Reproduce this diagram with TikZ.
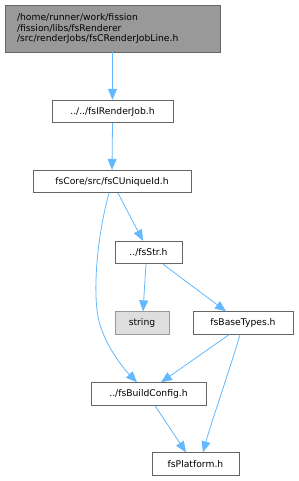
\documentclass[tikz,border=0pt]{standalone}
\usepackage{fontspec}
\setmainfont{DejaVu Sans}
\usetikzlibrary{arrows.meta}
\definecolor{edgeblue}{HTML}{63B8FF}
\definecolor{grayforty}{HTML}{666666}
\definecolor{graysixty}{HTML}{999999}
\definecolor{grayeightyseven}{HTML}{DEDEDE}
\begin{document}
\begin{tikzpicture}[x=1pt,y=-1pt,
  box/.style={draw=grayforty,fill=white,line width=0.8pt,inner sep=0pt,
    font=\fontsize{9.2}{10.8}\selectfont,text=black,minimum height=22.5pt},
  edge/.style={draw=edgeblue,line width=0.8pt,-{Triangle[length=11pt,width=9pt]}}]
\useasboundingbox (0,0) rectangle (299,481);
\node[box,fill=graysixty,minimum width=215pt,minimum height=47pt,align=left,text width=191pt] (top) at (112.5,28.5)
  {/home/runner/work/fission\\/fission/libs/fsRenderer\\/src/renderJobs/fsCRenderJobLine.h};
\node[box,minimum width=121pt] (irj) at (112.5,111.5) {../../fsIRenderJob.h};
\node[box,minimum width=158pt] (uid) at (112,181.5) {fsCore/src/fsCUniqueId.h};
\node[box,minimum width=67pt] (str) at (148.5,252.5) {../fsStr.h};
\node[box,draw=graysixty,fill=grayeightyseven,minimum width=54pt] (string) at (142,323) {string};
\node[box,minimum width=100pt] (bt) at (243,323) {fsBaseTypes.h};
\node[box,minimum width=115pt] (bc) at (148.5,394) {../fsBuildConfig.h};
\node[box,minimum width=87pt] (pf) at (195.5,464) {fsPlatform.h};
\draw[edge] (top.south) -- (irj.north);
\draw[edge] (irj.south) -- (uid.north);
\draw[edge] ([xshift=6pt]uid.south) -- ([xshift=-5.5pt]str.north);
\draw[edge] ([xshift=-3pt]uid.south) .. controls (96,240) and (92,300) .. (100,325) .. controls (108,350) and (125,370) .. ([xshift=-11.5pt]bc.north);
\draw[edge] ([xshift=-2.5pt]str.south) -- ([xshift=1pt]string.north);
\draw[edge] ([xshift=14.5pt]str.south) -- ([xshift=-17pt]bt.north);
\draw[edge] ([xshift=-14pt]bt.south) -- ([xshift=12.5pt]bc.north);
\draw[edge] ([xshift=-3pt]bt.south) .. controls (228,375) and (212,420) .. ([xshift=7.5pt]pf.north);
\draw[edge] ([xshift=6.5pt]bc.south) -- ([xshift=-9.5pt]pf.north);
\end{tikzpicture}
\end{document}
